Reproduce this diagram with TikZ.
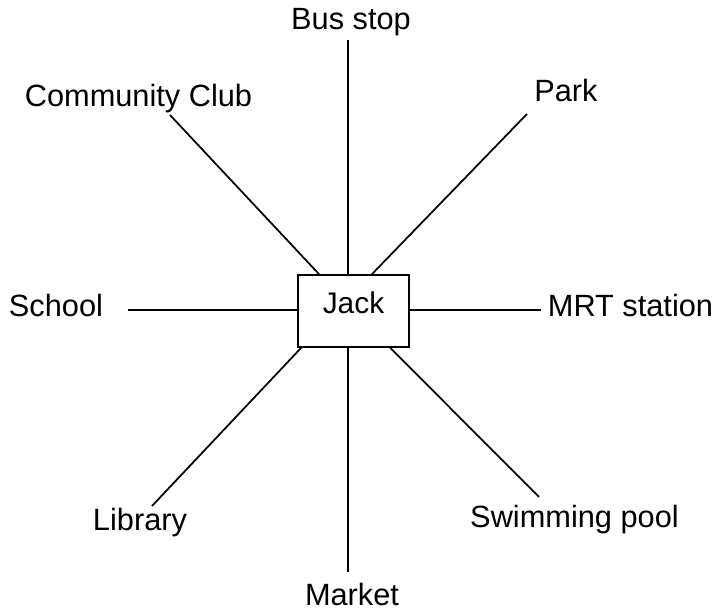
\documentclass[tikz,border=0pt]{standalone}
\usepackage{fontspec}
\setmainfont{Liberation Sans}
\tikzset{place/.style = {anchor = base, inner sep = 0, font = \fontsize{17.5}{21}\selectfont}}
\tikzset{hub/.style = {draw, line width = 1pt, inner sep = 0, minimum width = 2.22cm, minimum height = 1.44cm, text depth = 0.32cm, font = \fontsize{17}{20}\selectfont}}

\begin{document}
\begin{tikzpicture}[line width = 1pt]
      \useasboundingbox (-7.07, -6.06) rectangle (7.21, 6.22);
      \node [hub] (jack) at (0, 0) {Jack};
      \node [place] (bus) at (-0.05, 5.62) {Bus stop};
      \node [place] (club) at (-4.3, 4.08) {Community Club};
      \node [place] (park) at (4.25, 4.18) {Park};
      \node [place] (school) at (-5.95, -0.12) {School};
      \node [place] (mrt) at (5.54, -0.12) {MRT station};
      \node [place] (library) at (-4.27, -4.4) {Library};
      \node [place] (pool) at (4.42, -4.34) {Swimming pool};
      \node [place] (market) at (-0.03, -5.9) {Market};
      \coordinate (busEnd) at (-0.11, 5.42);
      \coordinate (marketEnd) at (-0.11, -5.22);
      \coordinate (clubEnd) at (-3.67, 3.92);
      \coordinate (parkEnd) at (3.47, 3.94);
      \coordinate (schoolEnd) at (-4.51, 0.02);
      \coordinate (mrtEnd) at (3.75, 0.02);
      \coordinate (libraryEnd) at (-4.03, -3.9);
      \coordinate (poolEnd) at (3.71, -3.72);
      \draw (busEnd |- jack.north) -- (busEnd);
      \draw (marketEnd |- jack.south) -- (marketEnd);
      \draw (jack) -- (clubEnd);
      \draw (jack.north) ++(0.37, 0) -- (parkEnd);
      \draw (schoolEnd -| jack.west) -- (schoolEnd);
      \draw (mrtEnd -| jack.east) -- (mrtEnd);
      \draw (jack.south west) ++(0.08, 0) -- (libraryEnd);
      \draw (jack) -- (poolEnd);
    \end{tikzpicture}
\end{document}
